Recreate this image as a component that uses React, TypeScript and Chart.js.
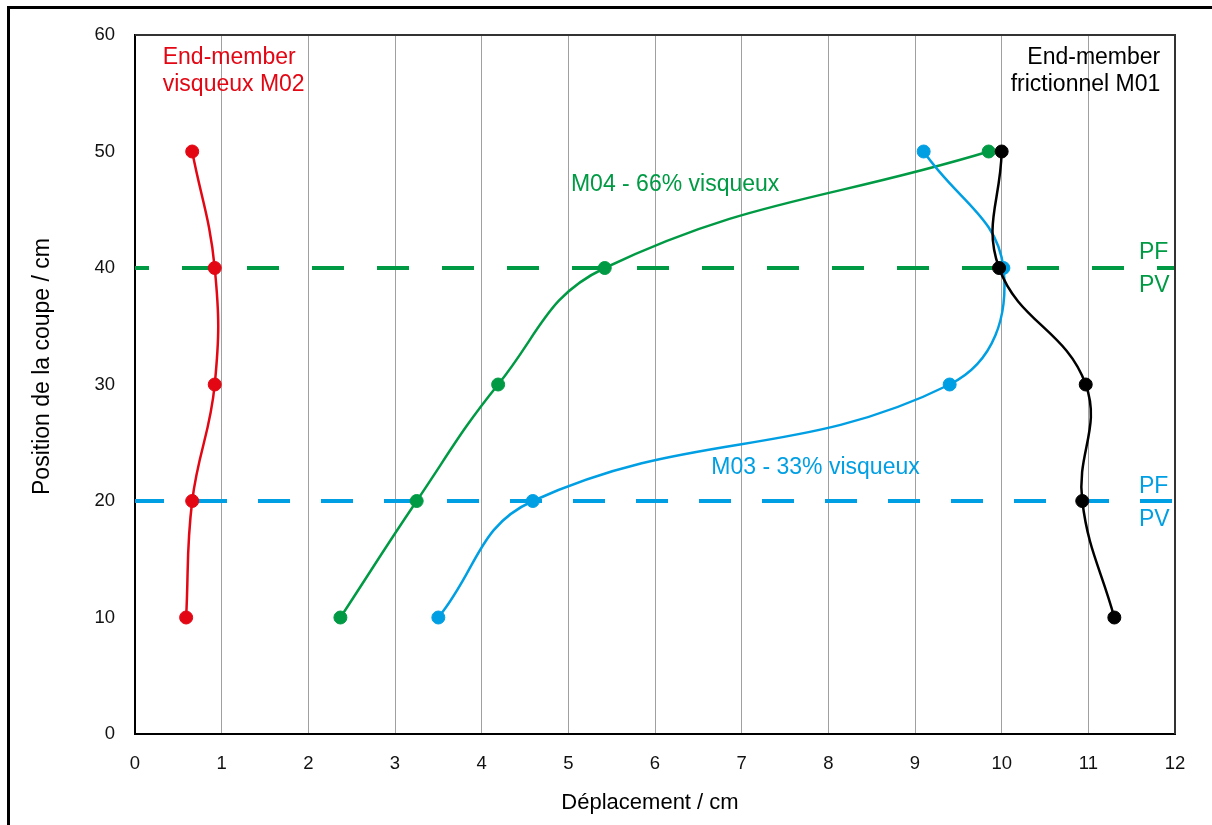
import React, { useEffect, useRef } from "react";
import { Chart, registerables } from "chart.js";

Chart.register(...registerables);

// ---------- data ----------
const positions = [10, 20, 30, 40, 50]; // Position de la coupe / cm
const m02Displacement = [0.59, 0.66, 0.92, 0.92, 0.66]; // End-member visqueux
const m04Displacement = [2.37, 3.25, 4.19, 5.42, 9.85]; // 66% visqueux
const m03Displacement = [3.5, 4.59, 9.4, 10.02, 9.1]; // 33% visqueux
const m01Displacement = [11.3, 10.93, 10.97, 9.97, 10.0]; // End-member frictionnel
const pfPvM04 = 40;
const pfPvM03 = 20;
const xRange = [0, 12];
const yRange = [0, 60];
const xStep = 1;
const yStep = 10;

const FONT = '"Liberation Sans", Arial, sans-serif';
const RED = "#E30613";
const GREEN = "#009A44";
const BLUE = "#009FE3";
const BLACK = "#000000";

const labels = [
  { lines: ["End-member", "visqueux M02"], x: 0.32, y: 58.05, align: "left", color: RED, lh: 26.5 },
  { lines: ["End-member", "frictionnel M01"], x: 11.83, y: 58.05, align: "right", color: BLACK, lh: 26.5 },
  { lines: ["M04 - 66% visqueux"], x: 5.03, y: 47.12, align: "left", color: GREEN, lh: 0 },
  { lines: ["M03 - 33% visqueux"], x: 6.65, y: 22.83, align: "left", color: BLUE, lh: 0 },
  { lines: ["PF", "PV"], x: 11.585, y: 41.29, align: "left", color: GREEN, lh: 32.5 },
  { lines: ["PF", "PV"], x: 11.585, y: 21.24, align: "left", color: BLUE, lh: 33 },
];

const toPoints = (xs: number[]) => xs.map((v, i) => ({ x: v, y: positions[i] }));

const seriesDs = (label: string, xs: number[], color: string, order: number) => ({
  label,
  data: toPoints(xs),
  showLine: true,
  borderColor: color,
  backgroundColor: color,
  borderWidth: 2.5,
  tension: 0.42,
  pointRadius: 6.5,
  pointHoverRadius: 6.5,
  pointBackgroundColor: color,
  pointBorderColor: color,
  pointBorderWidth: 1,
  order,
});

const dashDs = (label: string, yv: number, color: string, dash: number[], offset: number) => ({
  label,
  data: [
    { x: xRange[0], y: yv },
    { x: xRange[1], y: yv },
  ],
  showLine: true,
  borderColor: color,
  backgroundColor: color,
  borderWidth: 4,
  borderDash: dash,
  borderDashOffset: offset,
  tension: 0,
  pointRadius: 0,
  pointHoverRadius: 0,
  order: 10,
});

const overlayPlugin = {
  id: "overlay",
  afterDatasetsDraw(chart: any) {
    const { ctx, chartArea, scales } = chart;
    const xs = scales.x;
    const ys = scales.y;
    ctx.save();
    // top/right plot frame
    ctx.strokeStyle = "#333333";
    ctx.lineWidth = 2;
    ctx.beginPath();
    ctx.moveTo(chartArea.left, chartArea.top);
    ctx.lineTo(chartArea.right, chartArea.top);
    ctx.lineTo(chartArea.right, chartArea.bottom);
    ctx.stroke();

    ctx.font = `23px ${FONT}`;
    ctx.textBaseline = "middle";
    for (const a of labels) {
      ctx.fillStyle = a.color;
      ctx.textAlign = a.align as CanvasTextAlign;
      const px = xs.getPixelForValue(a.x);
      const py = ys.getPixelForValue(a.y);
      a.lines.forEach((t, i) => ctx.fillText(t, px, py + i * a.lh));
    }

    // axis titles
    ctx.fillStyle = "#000";
    ctx.textAlign = "center";
    ctx.font = `22px ${FONT}`;
    ctx.fillText("Déplacement / cm", 650, 803);
    ctx.save();
    ctx.translate(43, 366.5);
    ctx.rotate(-Math.PI / 2);
    ctx.font = `23px ${FONT}`;
    ctx.fillText("Position de la coupe / cm", 0, 0);
    ctx.restore();
    ctx.restore();
  },
};

export default function App() {
  const ref = useRef<HTMLCanvasElement | null>(null);

  useEffect(() => {
    if (!ref.current) return;
    const chart = new Chart(ref.current, {
      type: "scatter",
      data: {
        datasets: [
          seriesDs("M01", m01Displacement, BLACK, 0),
          seriesDs("M02", m02Displacement, RED, 1),
          seriesDs("M03", m03Displacement, BLUE, 2),
          seriesDs("M04", m04Displacement, GREEN, 3),
          dashDs("PF/PV M04", pfPvM04, GREEN, [32, 33], 18),
          dashDs("PF/PV M03", pfPvM03, BLUE, [32, 31], 3),
        ] as any,
      },
      options: {
        animation: false,
        responsive: false,
        devicePixelRatio: 1,
        layout: { padding: { top: 35, right: 37, left: 0, bottom: 0 } },
        plugins: {
          legend: { display: false },
          tooltip: { enabled: false },
        },
        font: { family: FONT },
        scales: {
          x: {
            type: "linear",
            min: xRange[0],
            max: xRange[1],
            ticks: {
              stepSize: xStep,
              padding: 19,
              color: "#111",
              font: { family: FONT, size: 18.5 },
              maxRotation: 0,
            },
            grid: { display: true, color: "#a0a0a0", lineWidth: 1, drawTicks: false },
            border: { display: true, color: "#000", width: 2 },
            afterFit: (s: any) => {
              s.height = 91;
            },
          },
          y: {
            type: "linear",
            min: yRange[0],
            max: yRange[1],
            ticks: {
              stepSize: yStep,
              padding: 20,
              color: "#111",
              font: { family: FONT, size: 18.5 },
            },
            grid: { display: false, drawTicks: false },
            border: { display: true, color: "#000", width: 2 },
            afterFit: (s: any) => {
              s.width = 135;
            },
          },
        },
      } as any,
      plugins: [overlayPlugin],
    });
    return () => chart.destroy();
  }, []);

  return (
    <div style={{ position: "fixed", left: 0, top: 0, width: 1212, height: 825, background: "#fff" }}>
      <div
        style={{
          position: "absolute",
          left: 7,
          top: 6,
          width: 1205,
          height: 819,
          borderTop: "3px solid #000",
          borderLeft: "3px solid #000",
          boxSizing: "border-box",
        }}
      />
      <canvas
        ref={ref}
        width={1212}
        height={825}
        style={{ position: "absolute", left: 0, top: 0, width: 1212, height: 825 }}
      />
    </div>
  );
}
